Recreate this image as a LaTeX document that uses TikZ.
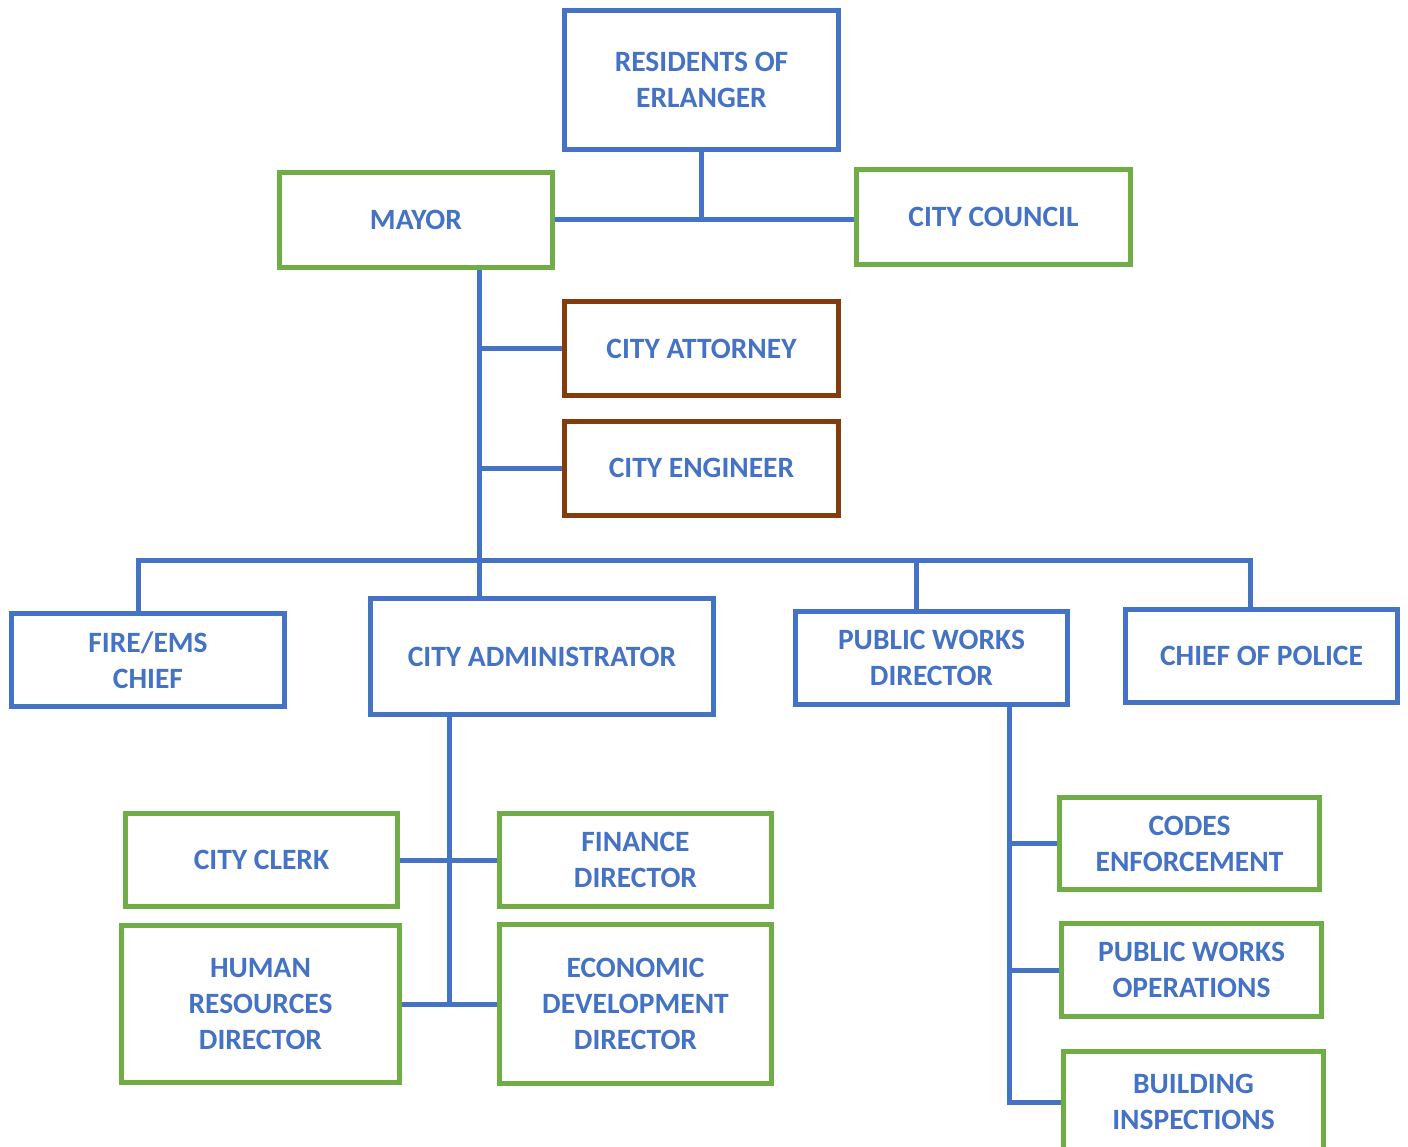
\documentclass[tikz,border=0pt]{standalone}
\usepackage{fontspec}
\setmainfont{Carlito}
\definecolor{orgblue}{HTML}{4472C4}
\definecolor{orggreen}{HTML}{70AD47}
\definecolor{orgbrown}{HTML}{843C0C}

\begin{document}
\begin{tikzpicture}[x=1pt,y=-1pt,
  unit/.style={line width=5pt,fill=white,align=center,inner sep=0pt,
               font=\fontsize{29.5}{36}\selectfont\bfseries,text=orgblue},
  bluebox/.style={unit,draw=orgblue},
  greenbox/.style={unit,draw=orggreen},
  brownbox/.style={unit,draw=orgbrown},
  wh/.style 2 args={minimum width=#1pt,minimum height=#2pt},
  link/.style={draw=orgblue,line width=5pt}]
\useasboundingbox (0,0) rectangle (1408,1147);
\clip (0,0) rectangle (1408,1147);
% trunk lines
\coordinate (t1) at (479,560);
\coordinate (t2) at (449,862);
\coordinate (t3) at (1009,842);

\node[bluebox,wh={274}{139}]  (R)   at (701.5,80)    {RESIDENTS OF\\ERLANGER};
\node[greenbox,wh={273}{95}]  (M)   at (416,220)     {MAYOR};
\node[greenbox,wh={274}{95}]  (CC)  at (993.5,217)   {CITY COUNCIL};
\node[brownbox,wh={274}{94}]  (CAt) at (701.5,348.5) {CITY ATTORNEY};
\node[brownbox,wh={274}{94}]  (CE)  at (701.5,468)   {CITY ENGINEER};
\node[bluebox,wh={273}{93}]   (FE)  at (148,660)     {FIRE/EMS\\CHIEF};
\node[bluebox,wh={343}{116}]  (CA)  at (542,656.5)   {CITY ADMINISTRATOR};
\node[bluebox,wh={272}{93}]   (PW)  at (931.5,658)   {PUBLIC WORKS\\DIRECTOR};
\node[bluebox,wh={272}{93}]   (CP)  at (1261.5,656)  {CHIEF OF POLICE};
\node[greenbox,wh={272}{93}]  (CL)  at (261.5,860)   {CITY CLERK};
\node[greenbox,wh={272}{93}]  (FD)  at (635.5,860)   {FINANCE\\DIRECTOR};
\node[greenbox,wh={278}{157}] (HR)  at (260.5,1004)  {HUMAN\\RESOURCES\\DIRECTOR};
\node[greenbox,wh={272}{159}] (ED)  at (635.5,1004)  {ECONOMIC\\DEVELOPMENT\\DIRECTOR};
\node[greenbox,wh={260}{92}]  (CO)  at (1189.5,843.5) {CODES\\ENFORCEMENT};
\node[greenbox,wh={260}{93}]  (OP)  at (1191.5,970)  {PUBLIC WORKS\\OPERATIONS};
\node[greenbox,wh={260}{101}] (BI)  at (1193.5,1102) {BUILDING\\INSPECTIONS};

% residents, mayor and council
\draw[link] (M.east) -- (M.east -| CC.west);
\draw[link] (R.south) -- (R.south |- M.east);
% mayor down to the departments
\draw[link] (M.south -| t1) -- (CA.north -| t1);
\draw[link] (CAt.west) -- (CAt.west -| t1);
\draw[link] (CE.west) -- (CE.west -| t1);
\draw[link] ([xshift=-10pt]FE.north) |- (t1) -| ([xshift=-11pt]CP.north);
\draw[link] ([xshift=-15pt]PW.north) -- ([xshift=-15pt]PW.north |- t1);
% administrator
\draw[link] (CA.south -| t2) -- (ED.west -| t2);
\draw[link] (CL.east) -- (FD.west);
\draw[link] (HR.east) -- (ED.west);
% public works
\draw[link] (PW.south -| t3) |- (BI.west);
\draw[link] (CO.west) -- (CO.west -| t3);
\draw[link] (OP.west) -- (OP.west -| t3);
\end{tikzpicture}
\end{document}
